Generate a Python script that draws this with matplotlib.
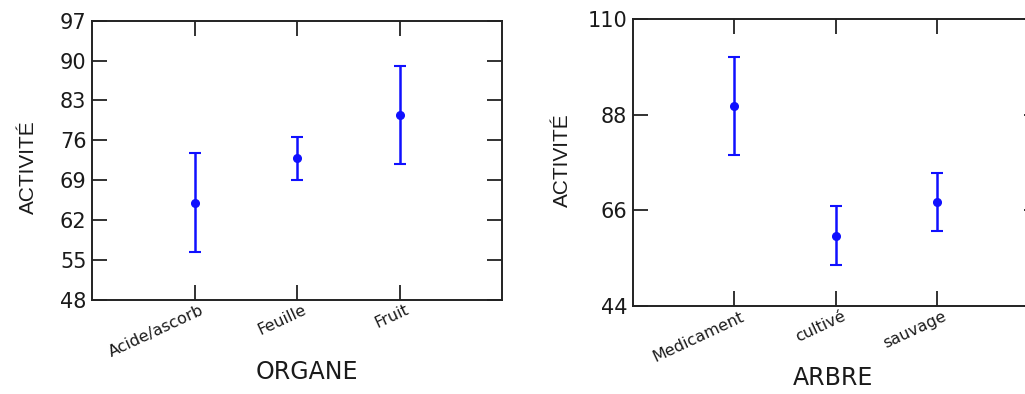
import matplotlib
matplotlib.use("Agg")
import matplotlib.pyplot as plt
import matplotlib.transforms as mtransforms

# Mean activity by plant organ, with error half-widths
organ_labels = ["Acide/ascorb", "Feuille", "Fruit"]
organ_means = [65.0, 72.8, 80.5]
organ_errs = [8.7, 3.8, 8.6]
organ_yticks = [48, 55, 62, 69, 76, 83, 90, 97]

# Mean activity by tree origin, with error half-widths
tree_labels = ["Medicament", "cultivé", "sauvage"]
tree_means = [90.0, 60.2, 67.9]
tree_errs = [11.3, 6.8, 6.6]
tree_yticks = [44, 66, 88, 110]

plt.rcParams["font.family"] = ["DejaVu Sans"]

W, H = 1025, 394
fig = plt.figure(figsize=(W / 100, H / 100), dpi=100)

BLUE = "#1010ff"
INK = "#1a1a1a"


def panel(rect, labels, means, errs, yticks, xlabel, xlabel_xy, ylabel_xy):
    ax = fig.add_axes(rect)
    xs = list(range(1, len(labels) + 1))
    ax.errorbar(xs, means, yerr=errs, fmt="o", color=BLUE, ecolor=BLUE,
                markersize=5.5, elinewidth=1.8, capsize=4, capthick=1.5)
    ax.set_xlim(0, 4)
    ax.set_ylim(yticks[0], yticks[-1])
    ax.set_yticks(yticks)
    ax.set_xticks(xs)
    ax.set_xticklabels(labels, rotation=25, ha="right", fontsize=11.5,
                       color=INK)
    ax.tick_params(axis="both", direction="in", length=11, width=1.3,
                   top=True, right=True, color="#222222")
    ax.tick_params(axis="y", labelsize=15, pad=4, labelcolor=INK)
    ax.tick_params(axis="x", pad=2)
    shift = mtransforms.ScaledTranslation(12 / 100, 0, fig.dpi_scale_trans)
    for lab in ax.get_xticklabels():
        lab.set_transform(lab.get_transform() + shift)
    for s in ax.spines.values():
        s.set_linewidth(1.4)
        s.set_color("#222222")
    fig.text(xlabel_xy[0] / W, 1 - xlabel_xy[1] / H, xlabel, ha="center",
             va="center", fontsize=17, color=INK)
    fig.text(ylabel_xy[0] / W, 1 - ylabel_xy[1] / H, "ACTIVITÉ",
             ha="center", va="center", rotation=90, fontsize=15, color=INK,
             family=["Liberation Sans", "DejaVu Sans"])
    return ax


panel([92 / W, (H - 299.5) / H, 410 / W, 278.8 / H],
      organ_labels, organ_means, organ_errs, organ_yticks,
      "ORGANE", (307, 372), (28, 167))

panel([632.7 / W, (H - 306) / H, 406 / W, 287 / H],
      tree_labels, tree_means, tree_errs, tree_yticks,
      "ARBRE", (833, 378), (562, 160))

fig.savefig("out.png", dpi=100)
